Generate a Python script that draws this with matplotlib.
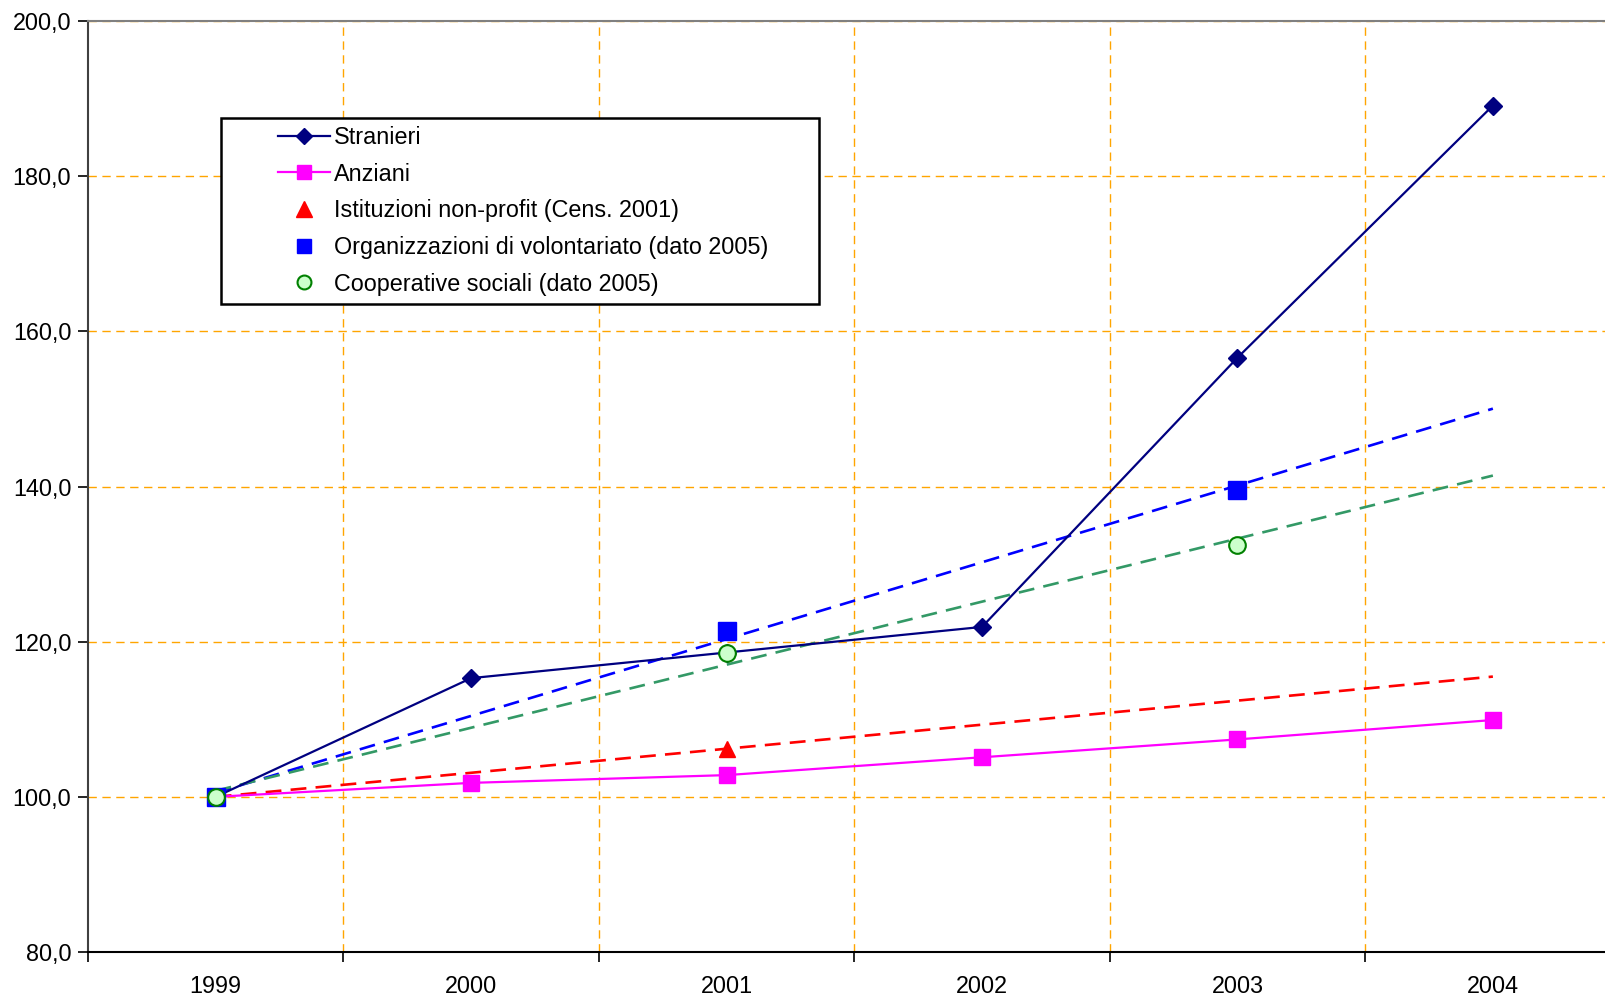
import numpy as np
import matplotlib
matplotlib.use("Agg")
import matplotlib.pyplot as plt
from matplotlib.lines import Line2D
from matplotlib.patches import Rectangle

plt.rcParams['font.family'] = ['Liberation Sans', 'DejaVu Sans']

# Dati (indice 1999 = 100)
anni = ['1999', '2000', '2001', '2002', '2003', '2004']
stranieri = [100.0, 115.3, 118.6, 121.9, 156.6, 189.1]
anziani = [100.0, 101.8, 102.8, 105.1, 107.4, 109.9]

# serie con pochi punti (anno, valore) + linea di tendenza
nonprofit_anni = [0, 2]
nonprofit_val = [100.0, 106.2]
volont_anni = [0, 2, 4]
volont_val = [100.0, 121.4, 139.6]
coop_anni = [0, 2, 4]
coop_val = [100.0, 118.6, 132.5]

FS = 16.8
W, H = 1605, 997
fig = plt.figure(figsize=(W / 100, H / 100), dpi=100)
left, right, top, bottom = 88, 1620.6, 21, 952
ax = fig.add_axes([left / W, 1 - bottom / H, (right - left) / W, (bottom - top) / H])

x = np.arange(len(anni))
ax.set_xlim(-0.5, len(anni) - 0.5)
ax.set_ylim(80, 200)

# griglia arancione tratteggiata
grid_kw = dict(color='#FFA500', linewidth=1.0, dashes=(6, 4), zorder=0)
for yv in np.arange(100, 201, 20):
    ax.axhline(yv, **grid_kw)
for xv in np.arange(0.5, len(anni) - 0.5, 1):
    ax.axvline(xv, **grid_kw)

# linee di tendenza (lineari)
xt = np.array([0, 5])
for xs, ys, col in [(nonprofit_anni, nonprofit_val, '#FF0000'),
                    (volont_anni, volont_val, '#0000FF'),
                    (coop_anni, coop_val, '#339966')]:
    a, b = np.polyfit(xs, ys, 1)
    ax.plot(xt, a * xt + b, color=col, linewidth=1.9, dashes=(6, 3.5), zorder=2)

ax.plot(x, stranieri, color='#000080', marker='D', markersize=9.5, linewidth=1.6, zorder=3)
ax.plot(x, anziani, color='#FF00FF', marker='s', markersize=11, linewidth=1.6, zorder=3)
ax.plot(nonprofit_anni, nonprofit_val, linestyle='none', marker='^', markersize=12,
        color='#FF0000', zorder=3)
ax.plot(volont_anni, volont_val, linestyle='none', marker='s', markersize=13,
        color='#0000FF', zorder=3)
ax.plot(coop_anni, coop_val, linestyle='none', marker='o', markersize=12,
        markerfacecolor='#CCFFCC', markeredgecolor='#008000', markeredgewidth=1.5, zorder=3)

# assi
ax.set_yticks(np.arange(80, 201, 20))
ax.set_yticklabels([f'{v:.1f}'.replace('.', ',') for v in np.arange(80, 201, 20)])
ax.set_xticks(np.arange(-0.5, len(anni), 1))
ax.set_xticklabels([])
ax.set_xticks(x, minor=True)
ax.set_xticklabels(anni, minor=True)
ax.tick_params(axis='x', which='minor', length=0, pad=16.5, labelsize=FS)
ax.tick_params(axis='x', which='major', length=7, width=1.2, direction='out')
ax.tick_params(axis='y', length=7, width=1.2, direction='out', pad=5, labelsize=FS)

ax.spines['right'].set_visible(False)
ax.spines['top'].set_color('#808080')
ax.spines['top'].set_linewidth(1.5)
ax.spines['left'].set_color('#404040')
ax.spines['left'].set_linewidth(1.5)
ax.spines['bottom'].set_color('#000000')
ax.spines['bottom'].set_linewidth(1.5)

# legenda con riquadro
box = Rectangle((221 / W, 1 - 304 / H), (819 - 221) / W, (304 - 118) / H,
                transform=fig.transFigure, facecolor='white', edgecolor='black',
                linewidth=1.8, zorder=4)
fig.add_artist(box)

handles = [
    Line2D([], [], color='#000080', marker='D', markersize=8, linewidth=1.6),
    Line2D([], [], color='#FF00FF', marker='s', markersize=10.5, linewidth=1.6),
    Line2D([], [], color='#FF0000', marker='^', markersize=11, linestyle='none'),
    Line2D([], [], color='#0000FF', marker='s', markersize=10.5, linestyle='none'),
    Line2D([], [], marker='o', markersize=10, linestyle='none', markerfacecolor='#CCFFCC',
           markeredgecolor='#008000', markeredgewidth=1.5),
]
labels = ['Stranieri', 'Anziani', 'Istituzioni non-profit (Cens. 2001)',
          'Organizzazioni di volontariato (dato 2005)', 'Cooperative sociali (dato 2005)']
fig.legend(handles, labels, loc='upper left', bbox_to_anchor=(278.4 / W, 1 - 126 / H),
           bbox_transform=fig.transFigure, frameon=False, borderpad=0, borderaxespad=0,
           fontsize=FS, handlelength=2.2, handletextpad=0.17, labelspacing=0.585,
           numpoints=1)

fig.savefig('out.png', dpi=100)
